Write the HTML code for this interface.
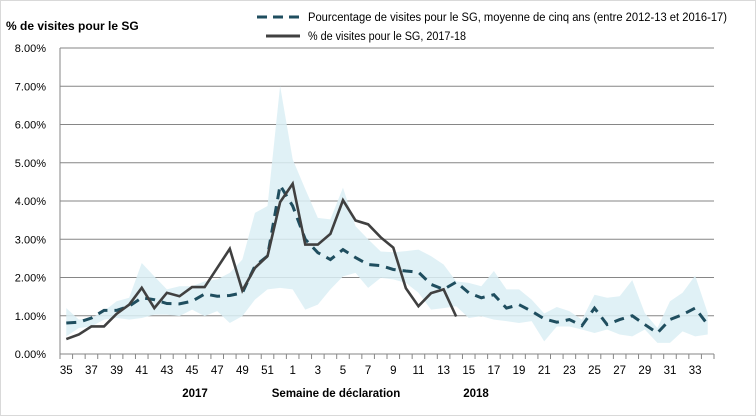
<!DOCTYPE html>
<html><head><meta charset="utf-8"><style>
body{margin:0;background:#fff;}
svg{display:block;font-family:"Liberation Sans",Arial,sans-serif;}
</style></head><body>
<svg id="chart" width="756" height="416">
<rect x="0.5" y="0.5" width="755" height="415" fill="#fff" stroke="#d9d9d9"/>
<text x="6" y="30" font-size="12" font-weight="bold" fill="#000">% de visites pour le SG</text>
<g>
<line x1="257" y1="17" x2="300" y2="17" stroke="#1f4e5f" stroke-width="3" stroke-dasharray="10,6"/>
<text x="308" y="21" font-size="11.5" fill="#000" textLength="419" lengthAdjust="spacingAndGlyphs">Pourcentage de visites pour le SG, moyenne de cinq ans (entre 2012-13 et 2016-17)</text>
<line x1="266" y1="36" x2="300" y2="36" stroke="#404040" stroke-width="3"/>
<text x="308" y="40" font-size="11.5" fill="#000" textLength="158" lengthAdjust="spacingAndGlyphs">% de visites pour le SG, 2017-18</text>
</g>
<g id="grid"></g><g id="band"></g><g id="axes"></g><g id="series"></g><g id="labels"></g>
<text x="195" y="397" font-size="11.5" font-weight="bold" text-anchor="middle">2017</text>
<text x="336" y="397" font-size="11.5" font-weight="bold" text-anchor="middle">Semaine de déclaration</text>
<text x="476" y="397" font-size="11.5" font-weight="bold" text-anchor="middle">2018</text>
</svg>
<script>
const weeks=[35,36,37,38,39,40,41,42,43,44,45,46,47,48,49,50,51,52,1,2,3,4,5,6,7,8,9,10,11,12,13,14,15,16,17,18,19,20,21,22,23,24,25,26,27,28,29,30,31,32,33,34];
const current=[0.39,0.51,0.72,0.72,1.05,1.29,1.73,1.2,1.6,1.51,1.75,1.75,2.25,2.75,1.66,2.25,2.56,3.97,4.45,2.86,2.86,3.14,4.02,3.49,3.39,3.05,2.78,1.72,1.25,1.59,1.69,0.98];
const average=[0.81,0.83,0.94,1.14,1.14,1.25,1.47,1.42,1.32,1.31,1.38,1.57,1.51,1.53,1.6,2.3,2.56,4.41,3.87,3.0,2.65,2.47,2.73,2.52,2.34,2.31,2.21,2.17,2.14,1.82,1.69,1.88,1.6,1.47,1.55,1.2,1.29,1.12,0.92,0.83,0.9,0.74,1.2,0.77,0.9,1.0,0.77,0.55,0.9,1.03,1.2,0.77];
const upper=[1.2,0.9,0.94,1.12,1.38,1.47,2.38,2.03,1.69,1.77,1.77,1.9,1.95,2.12,2.47,3.69,3.87,7.01,5.09,4.31,3.56,3.52,4.35,3.34,3.0,2.68,2.66,2.69,2.73,2.56,2.34,1.9,1.86,1.77,2.17,1.69,1.69,1.42,1.06,1.23,1.12,0.9,1.55,1.47,1.51,1.93,1.07,0.68,1.38,1.6,2.05,1.07];
const lower=[0.46,0.68,0.72,0.9,0.94,0.9,0.94,1.03,1.03,0.99,1.16,0.99,1.12,0.81,0.99,1.42,1.69,1.73,1.69,1.16,1.29,1.69,2.03,2.12,1.73,1.99,1.95,1.86,1.6,1.16,1.2,1.25,0.94,0.99,0.9,0.86,0.81,0.86,0.33,0.72,0.72,0.64,0.55,0.64,0.51,0.46,0.64,0.29,0.29,0.59,0.46,0.51];
const yTicks=[0,1,2,3,4,5,6,7,8];

const NS="http://www.w3.org/2000/svg";
const X0=60,X1=714,Y0=354,PX=38.25;
const bw=(X1-X0)/weeks.length;
function x(i){return X0+bw*(i+0.5);}
function y(v){return Y0-v*PX;}
function mk(tag,attrs,parent){const e=document.createElementNS(NS,tag);for(const k in attrs)e.setAttribute(k,attrs[k]);document.getElementById(parent).appendChild(e);return e;}

yTicks.forEach((t,k)=>{
  if(t>0){const g=mk('line',{x1:X0,x2:X1,y1:y(t),y2:y(t),stroke:'#868686','stroke-width':1},'grid');
  
  }
  const l=mk('text',{x:46,y:y(t)+4,'font-size':11,'text-anchor':'end',fill:'#000'},'labels');
  l.textContent=t.toFixed(2)+'%';
  
  
});
let bp=[];
upper.forEach((v,i)=>bp.push(x(i)+','+y(v)));
for(let i=lower.length-1;i>=0;i--)bp.push(x(i)+','+y(lower[i]));
const band=mk('polygon',{points:bp.join(' '),fill:'#daeef5','fill-opacity':0.85},'band');



const ax=mk('line',{x1:X0,x2:X1,y1:Y0,y2:Y0,stroke:'#868686'},'axes');


const ay=mk('line',{x1:X0,x2:X0,y1:y(8),y2:Y0,stroke:'#868686'},'axes');


for(let i=0;i<=weeks.length;i++){
  const tk=mk('line',{x1:X0+bw*i,x2:X0+bw*i,y1:Y0,y2:Y0+5,stroke:'#868686'},'axes');
  
  
}
weeks.forEach((w,i)=>{
  if(i%2===0){const l=mk('text',{x:x(i),y:Y0+20,'font-size':11.5,'text-anchor':'middle',fill:'#000'},'labels');
  l.textContent=w;
  
  }
});
const avg=mk('polyline',{points:average.map((v,i)=>x(i)+','+y(v)).join(' '),fill:'none',stroke:'#1f4e5f','stroke-width':3,'stroke-dasharray':'10,7'},'series');


const cur=mk('polyline',{points:current.map((v,i)=>x(i)+','+y(v)).join(' '),fill:'none',stroke:'#404040','stroke-width':2.6,'stroke-linejoin':'miter'},'series');


</script>
</body></html>
